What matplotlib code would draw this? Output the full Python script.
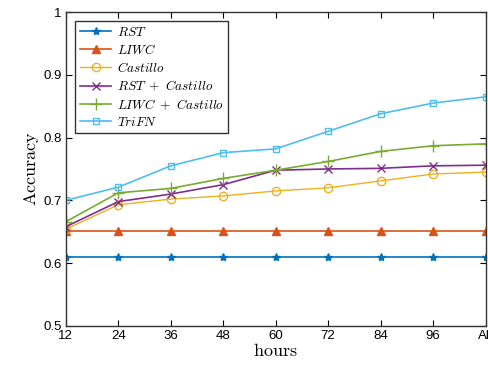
import numpy as np
import matplotlib.pyplot as plt

plt.rcParams['mathtext.fontset'] = 'cm'

hours = ['12', '24', '36', '48', '60', '72', '84', '96', 'All']
rst = [0.61] * 9
liwc = [0.651] * 9
castillo = [0.654, 0.693, 0.702, 0.707, 0.715, 0.720, 0.731, 0.742, 0.745]
rst_castillo = [0.658, 0.698, 0.710, 0.725, 0.748, 0.750, 0.751, 0.755, 0.756]
liwc_castillo = [0.666, 0.712, 0.719, 0.735, 0.748, 0.762, 0.778, 0.787, 0.790]
trifn = [0.700, 0.721, 0.755, 0.776, 0.782, 0.810, 0.838, 0.855, 0.865]

x = np.arange(len(hours))

fig = plt.figure(figsize=(4.88, 3.78), dpi=100)
ax = fig.add_axes([0.135, 0.138, 0.86, 0.83])

ax.plot(x, rst, color='#0072BD', marker='*', ms=6, lw=1.2, label=r'$RST$')
ax.plot(x, liwc, color='#D95319', marker='^', ms=6, lw=1.2, label=r'$LIWC$')
ax.plot(x, castillo, color='#EDB120', marker='o', mfc='none', ms=6, lw=1.0, label=r'$Castillo$')
ax.plot(x, rst_castillo, color='#7E2F8E', marker='x', ms=6, lw=1.2, label=r'$RST\ +\ Castillo$')
ax.plot(x, liwc_castillo, color='#77AC30', marker='+', ms=8, lw=1.2, label=r'$LIWC\ +\ Castillo$')
ax.plot(x, trifn, color='#4DBEEE', marker='s', mfc='none', ms=5, lw=1.2, label=r'$TriFN$')

ax.set_xlim(0, 8)
ax.set_ylim(0.5, 1)
ax.set_xticks(x)
ax.set_xticklabels(hours, fontsize=9.5, family='Liberation Sans')
yt = [0.5, 0.6, 0.7, 0.8, 0.9, 1.0]
ax.set_yticks(yt)
ax.set_yticklabels(['0.5', '0.6', '0.7', '0.8', '0.9', '1'], fontsize=9.5, family='Liberation Sans')
ax.tick_params(direction='in', top=True, right=True, length=4, width=0.8, pad=3)
for s in ax.spines.values():
    s.set_linewidth(1.0)
    s.set_color('#333333')

ax.set_xlabel(r'$\mathrm{hours}$', fontsize=13, labelpad=0)
ax.set_ylabel(r'$\mathrm{Accuracy}$', fontsize=13, labelpad=2)

leg = ax.legend(loc='upper left', fontsize=9.5, fancybox=False, edgecolor='black',
                borderaxespad=0.7, handlelength=2.4, labelspacing=0.3, borderpad=0.35,
                handletextpad=0.4)
leg.get_frame().set_linewidth(1.0)

fig.savefig('out.png', dpi=100)
